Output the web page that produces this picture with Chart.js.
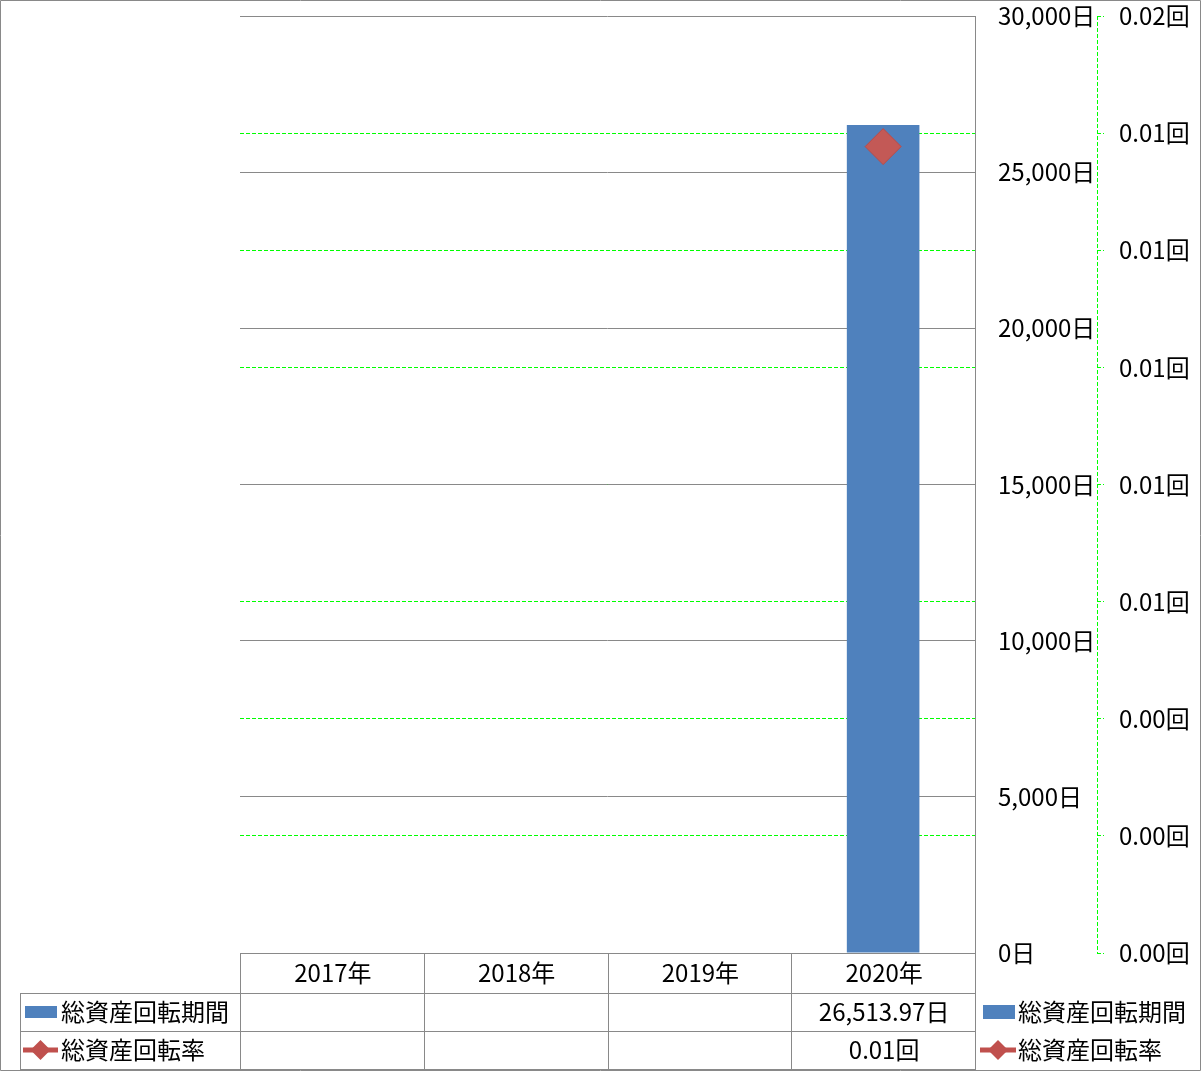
<!DOCTYPE html>
<html>
<head>
<meta charset="utf-8">
<script src="https://cdn.jsdelivr.net/npm/chart.js@4/dist/chart.umd.min.js"></script>
<style>
  html, body { margin: 0; padding: 0; background: #fff; }
  #wrap { width: 1201px; height: 1071px; position: relative; }
</style>
</head>
<body>
<div id="wrap"><canvas id="c" width="1201" height="1071"></canvas></div>
<script>
// ---- data ----
const categories = ['2017年', '2018年', '2019年', '2020年'];
const periodDays = [null, null, null, 26513.97];     // 総資産回転期間 (日)
const turnoverRate = [null, null, null, 0.01377];    // 総資産回転率 (回)
const seriesNames = ['総資産回転期間', '総資産回転率'];
const leftTickUnit = '日';
const rightTickLabels = ['0.00回', '0.00回', '0.00回', '0.01回', '0.01回', '0.01回', '0.01回', '0.01回', '0.02回'];
const periodTableLabels = ['', '', '', '26,513.97日'];
const rateTableLabels = ['', '', '', '0.01回'];

const FONT = '"Noto Sans CJK JP", "Noto Sans", sans-serif';
const FS = 24;
const BLUE = '#4F81BD';
const RED = '#C0504D';
const GRID = '#898989';
const GREEN = '#00FF00';

function drawDiamond(ctx, cx, cy, r) {
  ctx.beginPath();
  ctx.moveTo(cx, cy - r);
  ctx.lineTo(cx + r, cy);
  ctx.lineTo(cx, cy + r);
  ctx.lineTo(cx - r, cy);
  ctx.closePath();
  ctx.fillStyle = RED;
  ctx.fill();
}

const tablePlugin = {
  id: 'tablePlugin',
  afterDraw(chart) {
    const ctx = chart.ctx;
    const ca = chart.chartArea;
    const xs = chart.scales.x;
    const y2 = chart.scales.y2;
    const n = categories.length;
    const cw = (ca.right - ca.left) / n;
    const top = ca.bottom;
    const r1 = top + 40, r2 = r1 + 38, r3 = r2 + 38;
    ctx.save();
    // secondary axis line (dashed green)
    ctx.strokeStyle = GREEN;
    ctx.lineWidth = 1;
    ctx.setLineDash([4, 2]);
    ctx.beginPath();
    const ax = Math.round(y2.left) + 0.5;
    ctx.moveTo(ax, ca.top);
    ctx.lineTo(ax, ca.bottom);
    ctx.stroke();
    ctx.setLineDash([]);

    // table lines
    ctx.strokeStyle = GRID;
    ctx.lineWidth = 1;
    ctx.beginPath();
    const L = Math.round(ca.left) + 0.5, R = Math.round(ca.right) + 0.5;
    ctx.moveTo(L, Math.round(top) + 0.5); ctx.lineTo(R, Math.round(top) + 0.5);
    [r1, r2, r3].forEach(yy => { ctx.moveTo(20.5, Math.round(yy) + 0.5); ctx.lineTo(R, Math.round(yy) + 0.5); });
    for (let i = 0; i <= n; i++) {
      const xx = Math.round(ca.left + i * cw) + 0.5;
      ctx.moveTo(xx, Math.round(top)); ctx.lineTo(xx, Math.round(r3) + 1);
    }
    ctx.moveTo(20.5, Math.round(r1)); ctx.lineTo(20.5, Math.round(r3) + 1);
    // outer border
    ctx.rect(0.5, 0.5, chart.width - 1, chart.height - 1);
    ctx.stroke();

    // texts
    ctx.fillStyle = '#000';
    ctx.font = FS + 'px ' + FONT;
    ctx.textAlign = 'center';
    ctx.textBaseline = 'middle';
    for (let i = 0; i < n; i++) {
      const cx = xs.getPixelForValue(i);
      ctx.fillText(categories[i], cx + 1, (top + r1) / 2);
      if (periodTableLabels[i]) ctx.fillText(periodTableLabels[i], cx + 1, (r1 + r2) / 2);
      if (rateTableLabels[i]) ctx.fillText(rateTableLabels[i], cx + 1, (r2 + r3) / 2);
    }
    // legend keys in table
    ctx.textAlign = 'left';
    ctx.fillStyle = BLUE;
    ctx.fillRect(25, (r1 + r2) / 2 - 6, 32, 12);
    ctx.fillStyle = '#000';
    ctx.fillText(seriesNames[0], 61, (r1 + r2) / 2);
    ctx.strokeStyle = RED; ctx.lineWidth = 5;
    ctx.beginPath(); ctx.moveTo(23, (r2 + r3) / 2); ctx.lineTo(58, (r2 + r3) / 2); ctx.stroke();
    drawDiamond(ctx, 40.5, (r2 + r3) / 2, 10);
    ctx.fillStyle = '#000';
    ctx.fillText(seriesNames[1], 61, (r2 + r3) / 2);

    // right legend
    ctx.fillStyle = BLUE;
    ctx.fillRect(983, (r1 + r2) / 2 - 7, 32, 14);
    ctx.fillStyle = '#000';
    ctx.fillText(seriesNames[0], 1018, (r1 + r2) / 2);
    ctx.strokeStyle = RED; ctx.lineWidth = 5;
    ctx.beginPath(); ctx.moveTo(980, (r2 + r3) / 2); ctx.lineTo(1016, (r2 + r3) / 2); ctx.stroke();
    drawDiamond(ctx, 998, (r2 + r3) / 2, 10);
    ctx.fillStyle = '#000';
    ctx.fillText(seriesNames[1], 1018, (r2 + r3) / 2);
    ctx.restore();
  }
};

new Chart(document.getElementById('c'), {
  data: {
    labels: categories,
    datasets: [
      {
        type: 'line',
        label: seriesNames[1],
        data: turnoverRate,
        yAxisID: 'y2',
        order: 0,
        borderColor: RED,
        borderWidth: 5,
        pointStyle: 'rectRot',
        pointRadius: 18,
        pointBackgroundColor: '#C35956',
        pointBorderColor: '#BC4A47',
        pointBorderWidth: 1,
        showLine: true
      },
      {
        type: 'bar',
        label: seriesNames[0],
        data: periodDays,
        yAxisID: 'y',
        order: 1,
        backgroundColor: BLUE,
        barPercentage: 0.395,
        categoryPercentage: 1.0
      }
    ]
  },
  options: {
    responsive: false,
    animation: false,
    events: [],
    layout: { autoPadding: false, padding: { left: 240, top: 16, bottom: 118, right: 0 } },
    plugins: { legend: { display: false }, tooltip: { enabled: false } },
    scales: {
      x: { display: false, offset: true },
      y: {
        position: 'right',
        min: 0, max: 30000,
        afterFit(s) { s.width = 122; s.paddingTop = 0; s.paddingBottom = 0; },
        ticks: {
          stepSize: 5000,
          padding: 23,
          crossAlign: 'near',
          color: '#000',
          font: { family: FONT, size: FS },
          callback: v => v.toLocaleString('en-US') + leftTickUnit
        },
        grid: { color: GRID, lineWidth: 1, drawTicks: false, z: -1 },
        border: { display: true, color: GRID, width: 1 }
      },
      y2: {
        position: 'right',
        min: 0, max: 0.016,
        afterFit(s) { s.width = 104; s.paddingTop = 0; s.paddingBottom = 0; },
        afterBuildTicks(s) {
          s.ticks = rightTickLabels.map((_, i) => ({ value: i * 0.002 }));
        },
        ticks: {
          padding: 15,
          crossAlign: 'near',
          color: '#000',
          font: { family: FONT, size: FS },
          callback: (v, i) => rightTickLabels[i]
        },
        grid: {
          z: -2,
          drawOnChartArea: true,
          color: ctx => (ctx.index === 0 || ctx.index === rightTickLabels.length - 1) ? 'rgba(0,0,0,0)' : GREEN,
          tickColor: GREEN,
          tickLength: 7,
          tickBorderDash: [4, 2],
          lineWidth: 1
        },
        border: { display: false, dash: [4, 2] }
      }
    }
  },
  plugins: [tablePlugin]
});
</script>
</body>
</html>
